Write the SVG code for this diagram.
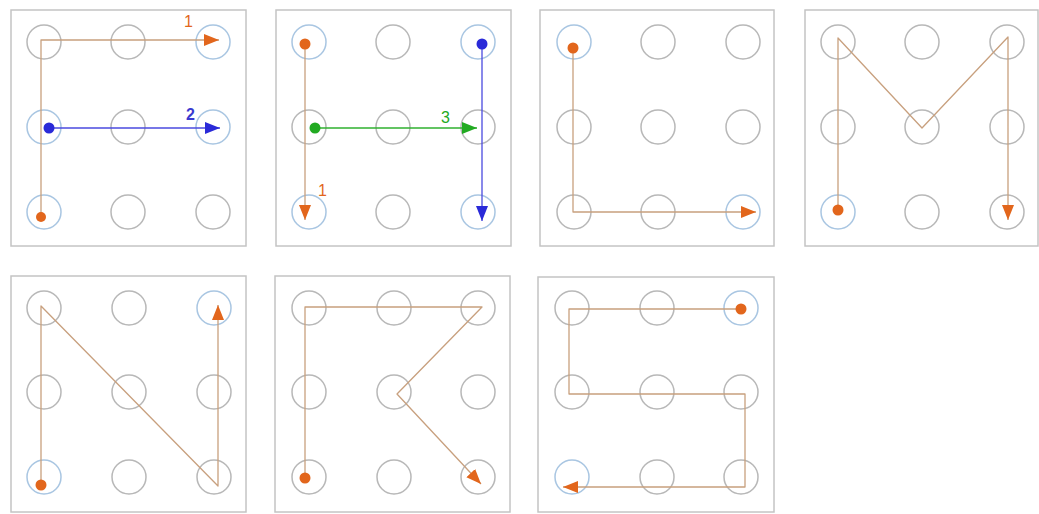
<svg xmlns="http://www.w3.org/2000/svg" width="1039" height="514" viewBox="0 0 1039 514">
<defs>
<style>
.panel{fill:#fff;stroke:#c4c4c4;stroke-width:1.5}
.c{fill:none;stroke:#b8b8b8;stroke-width:1.5}
.ce{fill:none;stroke:#a9c6e2;stroke-width:1.5}
.o{fill:none;stroke:#c8a07e;stroke-width:1.3;stroke-linejoin:round}
.b{fill:none;stroke:#4a4adf;stroke-width:1.3}
.g{fill:none;stroke:#2fb02f;stroke-width:1.3}
.do{fill:#e2661c}
.db{fill:#2a2ad8}
.dg{fill:#22aa22}
.lbl{font-family:"Liberation Sans",Arial,sans-serif;font-size:16px}
</style>
<marker id="ao" markerUnits="userSpaceOnUse" markerWidth="16" markerHeight="13" refX="15" refY="6" orient="auto"><path d="M0,0 L15,6 L0,12 z" fill="#e2661c"/></marker>
<marker id="ab" markerUnits="userSpaceOnUse" markerWidth="16" markerHeight="13" refX="15" refY="6" orient="auto"><path d="M0,0 L15,6 L0,12 z" fill="#2a2ad8"/></marker>
<marker id="ag" markerUnits="userSpaceOnUse" markerWidth="16" markerHeight="13" refX="15" refY="6" orient="auto"><path d="M0,0 L15,6 L0,12 z" fill="#22aa22"/></marker>
</defs>
<rect width="1039" height="514" fill="#fff"/>

<g id="panel-F">
<rect class="panel" x="11" y="10" width="235" height="236"/>
<circle class="c" cx="44" cy="42" r="17"/><circle class="c" cx="128" cy="42" r="17"/><circle class="ce" cx="213" cy="42" r="17"/>
<circle class="ce" cx="44" cy="127" r="17"/><circle class="c" cx="128" cy="127" r="17"/><circle class="ce" cx="213" cy="127" r="17"/>
<circle class="ce" cx="44" cy="212" r="17"/><circle class="c" cx="128" cy="212" r="17"/><circle class="c" cx="213" cy="212" r="17"/>
</g>
<g id="panel-H">
<rect class="panel" x="276" y="10" width="235" height="236"/>
<circle class="ce" cx="309" cy="42" r="17"/><circle class="c" cx="393" cy="42" r="17"/><circle class="ce" cx="478" cy="42" r="17"/>
<circle class="c" cx="309" cy="127" r="17"/><circle class="c" cx="393" cy="127" r="17"/><circle class="c" cx="478" cy="127" r="17"/>
<circle class="ce" cx="309" cy="212" r="17"/><circle class="c" cx="393" cy="212" r="17"/><circle class="ce" cx="478" cy="212" r="17"/>
</g>
<g id="panel-L">
<rect class="panel" x="540" y="10" width="234" height="236"/>
<circle class="ce" cx="574" cy="42" r="17"/><circle class="c" cx="658" cy="42" r="17"/><circle class="c" cx="743" cy="42" r="17"/>
<circle class="c" cx="574" cy="127" r="17"/><circle class="c" cx="658" cy="127" r="17"/><circle class="c" cx="743" cy="127" r="17"/>
<circle class="c" cx="574" cy="212" r="17"/><circle class="c" cx="658" cy="212" r="17"/><circle class="ce" cx="743" cy="212" r="17"/>
</g>
<g id="panel-M">
<rect class="panel" x="805" y="10" width="233" height="236"/>
<circle class="c" cx="838" cy="42" r="17"/><circle class="c" cx="922" cy="42" r="17"/><circle class="c" cx="1007" cy="42" r="17"/>
<circle class="c" cx="838" cy="127" r="17"/><circle class="c" cx="922" cy="127" r="17"/><circle class="c" cx="1007" cy="127" r="17"/>
<circle class="ce" cx="838" cy="212" r="17"/><circle class="c" cx="922" cy="212" r="17"/><circle class="c" cx="1007" cy="212" r="17"/>
</g>
<g id="panel-N">
<rect class="panel" x="11" y="276" width="235" height="236"/>
<circle class="c" cx="44" cy="308" r="17"/><circle class="c" cx="129" cy="308" r="17"/><circle class="ce" cx="214" cy="308" r="17"/>
<circle class="c" cx="44" cy="392" r="17"/><circle class="c" cx="129" cy="392" r="17"/><circle class="c" cx="214" cy="392" r="17"/>
<circle class="ce" cx="44" cy="477" r="17"/><circle class="c" cx="129" cy="477" r="17"/><circle class="c" cx="214" cy="477" r="17"/>
</g>
<g id="panel-K">
<rect class="panel" x="275" y="276" width="235" height="236"/>
<circle class="c" cx="309" cy="308" r="17"/><circle class="c" cx="394" cy="308" r="17"/><circle class="c" cx="478" cy="308" r="17"/>
<circle class="c" cx="309" cy="392" r="17"/><circle class="c" cx="394" cy="392" r="17"/><circle class="c" cx="478" cy="392" r="17"/>
<circle class="c" cx="309" cy="477" r="17"/><circle class="c" cx="394" cy="477" r="17"/><circle class="c" cx="478" cy="477" r="17"/>
</g>
<g id="panel-S">
<rect class="panel" x="538" y="277" width="236" height="235"/>
<circle class="c" cx="572" cy="308" r="17"/><circle class="c" cx="657" cy="308" r="17"/><circle class="ce" cx="741" cy="308" r="17"/>
<circle class="c" cx="572" cy="392" r="17"/><circle class="c" cx="657" cy="392" r="17"/><circle class="c" cx="741" cy="392" r="17"/>
<circle class="ce" cx="572" cy="477" r="17"/><circle class="c" cx="657" cy="477" r="17"/><circle class="c" cx="741" cy="477" r="17"/>
</g>

<g id="connectors">
<path class="o" d="M41,216 V40 H219" marker-end="url(#ao)"/>
<circle class="do" cx="41" cy="217" r="5"/>
<text class="lbl" x="184" y="27" fill="#e2661c">1</text>
<path class="b" d="M49,128 H220" marker-end="url(#ab)"/>
<circle class="db" cx="49" cy="128" r="5.5"/>
<text class="lbl" x="186" y="120" fill="#3a3ad0" font-weight="bold">2</text>
<path class="o" d="M305,44 V220" marker-end="url(#ao)"/>
<circle class="do" cx="305" cy="44" r="5.5"/>
<text class="lbl" x="318" y="196" fill="#e2661c">1</text>
<path class="b" d="M482,44 V221" marker-end="url(#ab)"/>
<circle class="db" cx="482" cy="44" r="5.5"/>
<path class="g" d="M315,128 H477" marker-end="url(#ag)"/>
<circle class="dg" cx="315" cy="128" r="5.5"/>
<text class="lbl" x="441" y="123" fill="#22aa22">3</text>
<path class="o" d="M573,48 V212 H756" marker-end="url(#ao)"/>
<circle class="do" cx="573" cy="48" r="5.5"/>
<path class="o" d="M838,210 V38 L922,128 L1008,37 V220" marker-end="url(#ao)"/>
<circle class="do" cx="838" cy="210" r="5.5"/>
<path class="o" d="M41,484 V306 L218,486 V305" marker-end="url(#ao)"/>
<circle class="do" cx="41" cy="485" r="5.5"/>
<path class="o" d="M305,478 V307 H482 L397,394 L481,484" marker-end="url(#ao)"/>
<circle class="do" cx="305" cy="478" r="5.5"/>
<path class="o" d="M741,309 H569 V394 H745 V487 H563" marker-end="url(#ao)"/>
<circle class="do" cx="741" cy="309" r="5.5"/>
</g>
</svg>
